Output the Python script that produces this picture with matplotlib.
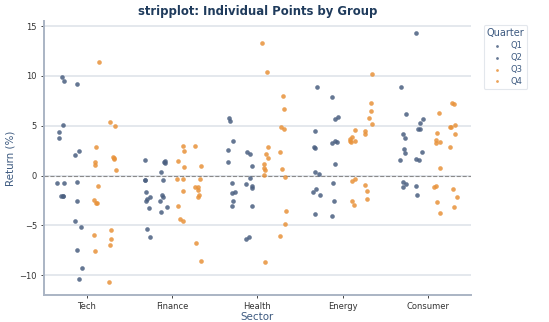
import numpy as np
import matplotlib
matplotlib.use("Agg")
import matplotlib.pyplot as plt

sectors = ["Tech", "Finance", "Health", "Energy", "Consumer"]
quarters = ["Q1", "Q2", "Q3", "Q4"]

tech_q1 = [9.9, 9.5, 5.1, 4.4, 3.8, -0.7, -0.7, -2.0, -2.0, -2.05]
tech_q2 = [9.2, 2.5, 2.1, -0.6, -2.6, -4.6, -5.2, -7.5, -9.3, -10.4]
tech_q3 = [11.4, 2.9, 1.4, 1.1, -1.0, -2.5, -2.8, -2.8, -6.0, -7.6]
tech_q4 = [5.4, 5.0, 1.7, 1.8, 1.9, 0.6, -5.5, -6.4, -7.0, -10.7]

fin_q1 = [1.6, -0.4, -0.4, -1.6, -2.6, -2.4, -2.2, -3.3, -5.4, -6.2]
fin_q2 = [1.4, 1.3, 1.5, 0.4, -0.4, -1.9, -2.2, -2.6, -3.2, -3.7]
fin_q3 = [3.0, 2.5, 1.5, 0.9, -0.35, -0.35, -1.5, -3.1, -4.4, -4.6]
fin_q4 = [3.0, 1.0, -0.3, -1.1, -1.1, -1.4, -2.1, -1.9, -6.8, -8.6]

hea_q1 = [5.5, 5.8, 3.5, 2.6, 1.4, -0.7, -1.7, -1.6, -2.6, -3.1]
hea_q2 = [2.2, 2.4, 1.0, -0.2, -0.8, -1.2, -1.0, -3.1, -6.2, -6.4]
hea_q3 = [13.3, 10.4, 2.9, 2.2, 1.8, 1.2, 0.8, 0.6, 0.1, -8.7]
hea_q4 = [8.0, 6.7, 4.7, 4.9, 2.4, 0.7, -0.1, -3.6, -4.9, -6.1]

ene_q1 = [8.9, 4.5, 2.9, 2.8, 0.15, 0.4, -1.3, -1.6, -1.9, -3.9]
ene_q2 = [7.9, 5.9, 5.7, 3.3, 3.4, 3.5, 1.2, -0.7, -2.6, -4.1]
ene_q3 = [4.6, 3.9, 3.5, 3.7, 3.5, 3.4, -0.3, -0.5, -2.6, -3.0]
ene_q4 = [10.2, 7.3, 6.5, 5.8, 5.2, 4.5, 4.2, -0.9, -1.5, -2.4]

con_q1 = [8.9, 6.2, 4.2, 3.8, 2.7, 2.3, 1.6, -0.6, -1.1, -0.8]
con_q2 = [14.3, 5.7, 5.3, 4.7, 4.65, 2.4, 1.7, 1.6, -1.0, -1.9]
con_q3 = [6.3, 4.3, 3.6, 3.4, 3.3, 0.8, -1.1, -1.0, -2.7, -3.8]
con_q4 = [7.3, 7.2, 4.9, 5.1, 4.9, 4.2, 2.9, -1.3, -2.2, -3.2]

data = {
    "Tech": [tech_q1, tech_q2, tech_q3, tech_q4],
    "Finance": [fin_q1, fin_q2, fin_q3, fin_q4],
    "Health": [hea_q1, hea_q2, hea_q3, hea_q4],
    "Energy": [ene_q1, ene_q2, ene_q3, ene_q4],
    "Consumer": [con_q1, con_q2, con_q3, con_q4],
}

colors = ["#4a5f80", "#4a5f80", "#e8923a", "#e8923a"]

fig = plt.figure(figsize=(5.49, 3.22), dpi=100)
ax = fig.add_axes([0.080, 0.084, 0.778, 0.851])

rng = np.random.default_rng(7)
offsets = [-0.3, -0.1, 0.1, 0.3]
for qi, q in enumerate(quarters):
    xs, ys = [], []
    for si, s in enumerate(sectors):
        vals = data[s][qi]
        jit = rng.uniform(-0.045, 0.045, len(vals))
        xs.extend(si + offsets[qi] + jit)
        ys.extend(vals)
    ax.scatter(xs, ys, s=11, color=colors[qi], alpha=0.85, linewidths=0,
               label=q, zorder=3)

ax.axhline(0, color="#8a8a8a", linestyle="--", linewidth=0.8, zorder=2)
ax.set_xlim(-0.5, 4.5)
ax.set_ylim(-11.98, 15.52)
ax.set_xticks(range(len(sectors)))
ax.set_xticklabels(sectors)
ax.set_yticks([-10, -5, 0, 5, 10, 15])
ax.yaxis.grid(True, color="#dde1e8", linewidth=1.1, zorder=0)
ax.set_axisbelow(True)
for sp in ["top", "right"]:
    ax.spines[sp].set_visible(False)
for sp in ["left", "bottom"]:
    ax.spines[sp].set_color("#aab4c4")
    ax.spines[sp].set_linewidth(1.4)
ax.tick_params(axis="both", labelsize=6.0, labelcolor="#333333", length=2.5,
               width=0.7, color="#444444", pad=2.5)

ax.set_title("stripplot: Individual Points by Group", fontsize=8.4,
             fontweight="bold", color="#1f3b5c", pad=4)
ax.set_xlabel("Sector", fontsize=7.4, color="#3d5a80", labelpad=1)
ax.set_ylabel("Return (%)", fontsize=7.4, color="#3d5a80", labelpad=3)

leg = ax.legend(title="Quarter", loc="upper left", bbox_to_anchor=(1.02, 1.0),
                fontsize=6.0, title_fontsize=7.0, frameon=True,
                markerscale=0.6, handletextpad=0.6, borderpad=0.35,
                labelspacing=0.35, handlelength=2.0)
leg.get_frame().set_edgecolor("#dde1e8")
leg.get_frame().set_linewidth(0.8)
leg.get_title().set_color("#3d5a80")
for t in leg.get_texts():
    t.set_color("#3d5a80")

fig.savefig("out.png", dpi=100)
